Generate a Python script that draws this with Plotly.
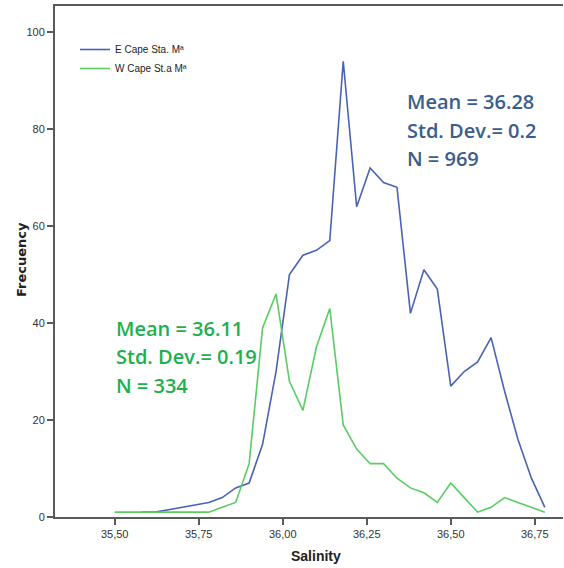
import plotly.graph_objects as go

# Salinity class midpoints (0.04 steps) and frequency counts per station
salinity = [35.50, 35.54, 35.58, 35.62, 35.66, 35.70, 35.74, 35.78, 35.82, 35.86,
            35.90, 35.94, 35.98, 36.02, 36.06, 36.10, 36.14, 36.18, 36.22, 36.26,
            36.30, 36.34, 36.38, 36.42, 36.46, 36.50, 36.54, 36.58, 36.62, 36.66,
            36.70, 36.74, 36.78]

e_cape_salinity = salinity[2:]
e_cape_freq = [1, 1, 1.5, 2, 2.5, 3, 4, 6, 7, 15, 30, 50, 54, 55, 57, 94, 64, 72, 69,
               68, 42, 51, 47, 27, 30, 32, 37, 26, 16, 8, 2]

w_cape_salinity = salinity
w_cape_freq = [1, 1, 1, 1, 1, 1, 1, 1, 2, 3, 11, 39, 46, 28, 22, 35, 43, 19, 14,
               11, 11, 8, 6, 5, 3, 7, 4, 1, 2, 4, 3, 2, 1]

x_ticks = [35.50, 35.75, 36.00, 36.25, 36.50, 36.75]
x_tick_text = ["35,50", "35,75", "36,00", "36,25", "36,50", "36,75"]
y_ticks = [0, 20, 40, 60, 80, 100]

e_stats = ["Mean = 36.28", "Std. Dev.= 0.2", "N = 969"]
w_stats = ["Mean = 36.11", "Std. Dev.= 0.19", "N = 334"]

BLUE_LINE = "#4a62b6"
GREEN_LINE = "#5acb62"
BLUE_TEXT = "#3a5d8f"
GREEN_TEXT = "#1db04f"
AXIS = "#5a5a5a"

fig = go.Figure()
fig.add_trace(go.Scatter(x=e_cape_salinity, y=e_cape_freq, mode="lines",
                         name="E Cape Sta. Mª",
                         line=dict(color=BLUE_LINE, width=1.6)))
fig.add_trace(go.Scatter(x=w_cape_salinity, y=w_cape_freq, mode="lines",
                         name="W Cape St.a Mª",
                         line=dict(color=GREEN_LINE, width=1.6)))

W, H = 564, 568
ml, mr, mt, mb = 55, 1, 6, 51
pw, ph = W - ml - mr, H - mt - mb


def px_x(px):
    return (px - ml) / pw


def px_y(py):
    return (H - mb - py) / ph


annotations = []
for txt, cy in zip(e_stats, [101.5, 130, 158.5]):
    annotations.append(dict(text=txt, x=px_x(405), y=px_y(cy), xref="paper", yref="paper",
                            xanchor="left", yanchor="middle", showarrow=False,
                            font=dict(family="Open Sans", size=20, color=BLUE_TEXT,
                                      weight=600)))
for txt, cy in zip(w_stats, [328, 356.5, 385]):
    annotations.append(dict(text=txt, x=px_x(114), y=px_y(cy), xref="paper", yref="paper",
                            xanchor="left", yanchor="middle", showarrow=False,
                            font=dict(family="Open Sans", size=20, color=GREEN_TEXT,
                                      weight=600)))

annotations.append(dict(text="<b>Salinity</b>", x=px_x(316), y=px_y(556), xref="paper",
                        yref="paper", xanchor="center", yanchor="middle", showarrow=False,
                        font=dict(family="Liberation Sans", size=14, color="#222")))
annotations.append(dict(text="<b>Frecuency</b>", x=px_x(21), y=px_y(260), xref="paper",
                        yref="paper", xanchor="center", yanchor="middle", showarrow=False,
                        textangle=-90,
                        font=dict(family="DejaVu Sans", size=13, color="#222")))

fig.update_layout(
    width=W, height=H,
    margin=dict(l=ml, r=mr, t=mt, b=mb),
    paper_bgcolor="white", plot_bgcolor="white",
    showlegend=True,
    legend=dict(x=px_x(75), y=px_y(35), xanchor="left", yanchor="top",
                bgcolor="rgba(0,0,0,0)", font=dict(family="Liberation Sans", size=10,
                                                   color="#222"),
                tracegroupgap=0, itemwidth=30),
    annotations=annotations,
    xaxis=dict(range=[35.3223, 36.834], tickvals=x_ticks, ticktext=x_tick_text,
               showgrid=False, zeroline=False, showline=True, linecolor=AXIS,
               linewidth=2, mirror=True, ticks="outside", ticklen=6, tickwidth=1.5,
               tickcolor=AXIS, tickfont=dict(family="Liberation Sans", size=11,
                                             color="#333")),
    yaxis=dict(range=[0, 105.4], tickvals=y_ticks, showgrid=False, zeroline=False,
               showline=True, linecolor=AXIS, linewidth=2, ticks="outside", ticklen=6,
               tickwidth=1.5, tickcolor=AXIS,
               tickfont=dict(family="Liberation Sans", size=11, color="#333")),
)

fig.write_html("out.html")
